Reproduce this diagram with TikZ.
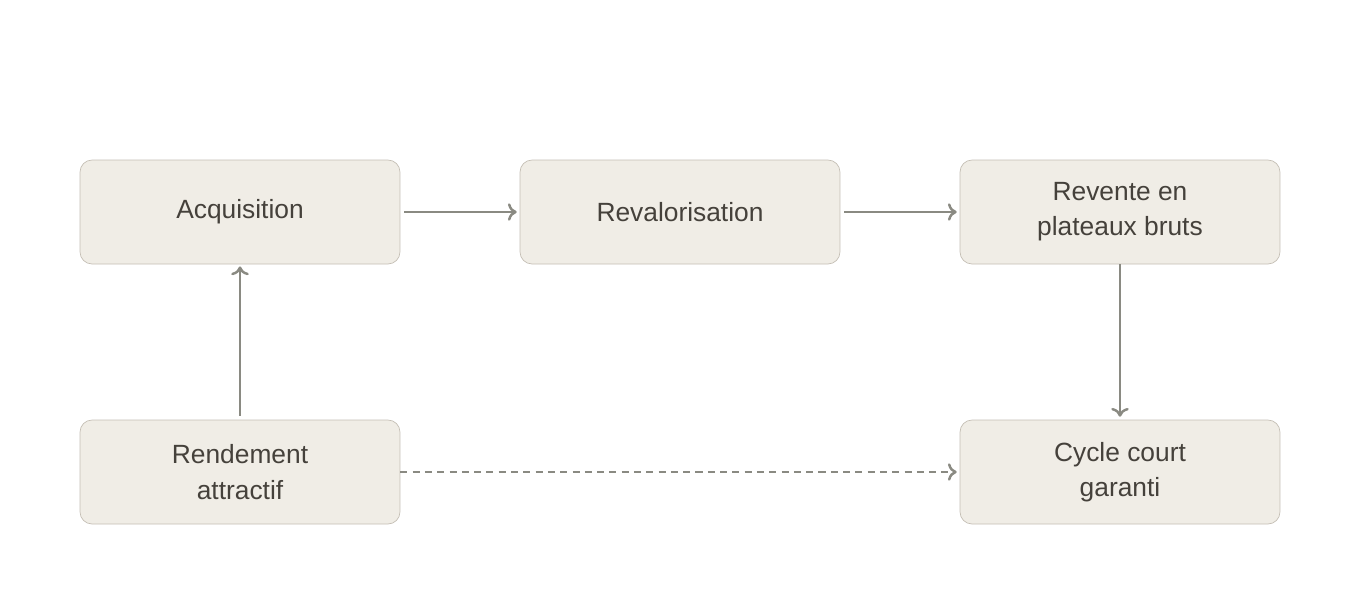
\documentclass[tikz,border=0pt]{standalone}
\usepackage{fontspec}
\setmainfont{Liberation Sans}
\usetikzlibrary{arrows.meta}
\definecolor{boxfill}{HTML}{F0EDE6}
\definecolor{boxline}{HTML}{C4BEB4}
\definecolor{txt}{HTML}{45413B}
\definecolor{arr}{HTML}{8A8A82}

\begin{document}
\begin{tikzpicture}[x=0.02cm, y=-0.02cm,
    stage/.style={draw=boxline, fill=boxfill, rounded corners=0.24cm, minimum width=6.4cm,
        minimum height=2.08cm, align=center, text=txt, font=\fontsize{15}{20}\selectfont},
    flow/.style={draw=arr, line width=1.4pt, -{To[length=5pt,width=10pt]}},
    link/.style={flow, dash pattern=on 4pt off 3pt}]
    \useasboundingbox (0,0) rectangle (1360,600);

    % Draw nodes
    \node[stage] (acq) at (240,212) {Acquisition};
    \node[stage] (reval) at (680,212) {Revalorisation};
    \node[stage] (revente) at (1120,212) {Revente en\\plateaux bruts};
    \node[stage] (rdt) at (240,472) {Rendement\\attractif};
    \node[stage] (cycle) at (1120,472) {Cycle court\\garanti};

    % Draw connectors
    \draw[flow] ([xshift=2.3pt]acq.east) -- ([xshift=-1.7pt]reval.west);
    \draw[flow] ([xshift=2.3pt]reval.east) -- ([xshift=-1.7pt]revente.west);
    \draw[flow] (revente.south) -- ([yshift=1.7pt]cycle.north);
    \draw[flow] ([yshift=2.3pt]rdt.north) -- ([yshift=-1.2pt]acq.south);
    \draw[link] (rdt.east) -- ([xshift=-1.7pt]cycle.west);
\end{tikzpicture}
\end{document}
